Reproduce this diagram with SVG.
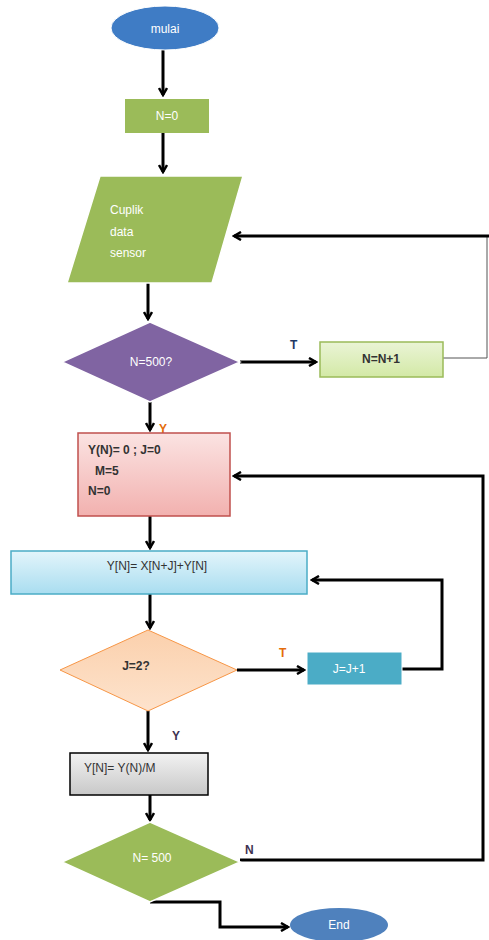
<svg xmlns="http://www.w3.org/2000/svg" width="489" height="940" viewBox="0 0 489 940">
<defs>
<marker id="arr" markerWidth="10" markerHeight="10" refX="8" refY="5" orient="auto" markerUnits="userSpaceOnUse">
<path d="M1,1 L8,5 L1,9" fill="none" stroke="#000" stroke-width="2.5"/>
</marker>
<linearGradient id="gPink" x1="0" y1="0" x2="0" y2="1"><stop offset="0" stop-color="#FBE3E2"/><stop offset="1" stop-color="#F2B1AF"/></linearGradient>
<linearGradient id="gCyan" x1="0" y1="0" x2="0" y2="1"><stop offset="0" stop-color="#E3F5FB"/><stop offset="1" stop-color="#A9DDF0"/></linearGradient>
<linearGradient id="gPeach" x1="0" y1="0" x2="0" y2="1"><stop offset="0" stop-color="#FBD0AC"/><stop offset="1" stop-color="#FDE3CD"/></linearGradient>
<linearGradient id="gGray" x1="0" y1="0" x2="0" y2="1"><stop offset="0" stop-color="#F2F2F2"/><stop offset="1" stop-color="#C8C8C8"/></linearGradient>
<linearGradient id="gLG" x1="0" y1="0" x2="0" y2="1"><stop offset="0" stop-color="#EAF4D6"/><stop offset="1" stop-color="#D3E9A6"/></linearGradient>
</defs>
<style>
text{font-family:"Liberation Sans",Arial,sans-serif;font-size:12px}
.w{fill:#fff}
.d{fill:#333}
.c{text-anchor:middle}
.b{font-weight:bold}
.ln{fill:none;stroke:#000;stroke-width:3}
.th{fill:none;stroke:#555;stroke-width:1}
.lbl{font-weight:bold;font-size:12px}
</style>

<g id="connectors">
<path class="ln" d="M163,50 V95" marker-end="url(#arr)"/>
<path class="ln" d="M163,133 V172" marker-end="url(#arr)"/>
<path class="ln" d="M148,283 V319" marker-end="url(#arr)"/>
<path class="ln" d="M240,362 H316" stroke-width="2" marker-end="url(#arr)"/>
<path class="ln" d="M150,402 V430" marker-end="url(#arr)"/>
<path class="th" d="M443,358 H487 V236"/>
<path class="ln" d="M489,236 H234" marker-end="url(#arr)"/>
<path class="ln" d="M150,516 V548" marker-end="url(#arr)"/>
<path class="ln" d="M150,594 V628" marker-end="url(#arr)"/>
<path class="ln" d="M237,670 H304" stroke-width="2" marker-end="url(#arr)"/>
<path class="ln" d="M402,669 H442 V580 H312" marker-end="url(#arr)"/>
<path class="ln" d="M148,711 V750" marker-end="url(#arr)"/>
<path class="ln" d="M150,795 V820" marker-end="url(#arr)"/>
<path class="ln" d="M240,860 H483 V476 H234" marker-end="url(#arr)"/>
<path class="ln" d="M150,902 H220 V927 H288" marker-end="url(#arr)"/>
<text x="290" y="349" class="lbl" fill="#1F3864">T</text>
<text x="159" y="433" class="lbl" fill="#E46C0A" font-size="11px">Y</text>
<text x="279" y="657" class="lbl" fill="#E46C0A">T</text>
<text x="172" y="740" class="lbl" fill="#403151">Y</text>
<text x="245" y="854" class="lbl" fill="#403151">N</text>
</g>

<g id="start">
<ellipse cx="165" cy="28" rx="54" ry="22" fill="#3F7CC5" stroke="#fff" stroke-width="1"/>
<text x="165" y="33" class="w c" font-size="14px">mulai</text>
</g>

<g id="n0">
<rect x="125" y="99" width="84" height="34" fill="#9BBB59"/>
<text x="167" y="120" class="w c">N=0</text>
</g>

<g id="input">
<polygon points="100,176 243,176 212,283 67,283" fill="#9BBB59" stroke="#fff" stroke-width="1.5"/>
<text x="110" y="214" class="w">Cuplik</text>
<text x="110" y="236" class="w">data</text>
<text x="110" y="257" class="w">sensor</text>
</g>

<g id="dec1">
<polygon points="150,322 240,362 150,402 62,362" fill="#8064A2" stroke="#fff" stroke-width="1.5"/>
<text x="151" y="366" class="w c">N=500?</text>
</g>

<g id="inc-n">
<rect x="320" y="342" width="123" height="35" fill="url(#gLG)" stroke="#9BBB59" stroke-width="1.5"/>
<text x="381" y="363" class="d c b">N=N+1</text>
</g>

<g id="init">
<rect x="78" y="433" width="152" height="83" fill="url(#gPink)" stroke="#C0504D" stroke-width="1.5"/>
<text x="88" y="454" class="d b">Y(N)= 0 ; J=0</text>
<text x="95" y="475" class="d b">M=5</text>
<text x="88" y="495" class="d b">N=0</text>
</g>

<g id="sum">
<rect x="11" y="551" width="296" height="43" fill="url(#gCyan)" stroke="#4BACC6" stroke-width="1.5"/>
<text x="157" y="570" class="d c">Y[N]= X[N+J]+Y[N]</text>
</g>

<g id="dec2">
<polygon points="148,630 237,670 148,711 60,670" fill="url(#gPeach)" stroke="#F79646" stroke-width="1"/>
<text x="136" y="670" class="d c b">J=2?</text>
</g>

<g id="inc-j">
<rect x="307" y="652" width="95" height="33" fill="#4BACC6" stroke="#fff" stroke-width="1"/>
<text x="349" y="673" class="w c">J=J+1</text>
</g>

<g id="avg">
<rect x="70" y="753" width="138" height="42" fill="url(#gGray)" stroke="#000" stroke-width="1.5"/>
<text x="84" y="772" class="d">Y[N]= Y(N)/M</text>
</g>

<g id="dec3">
<polygon points="150,822 240,862 150,902 62,862" fill="#9BBB59" stroke="#fff" stroke-width="1.5"/>
<text x="152" y="862" class="w c">N= 500</text>
</g>

<g id="end">
<ellipse cx="339" cy="925" rx="49" ry="17" fill="#4F81BD"/>
<text x="339" y="929" class="w c">End</text>
</g>
</svg>
